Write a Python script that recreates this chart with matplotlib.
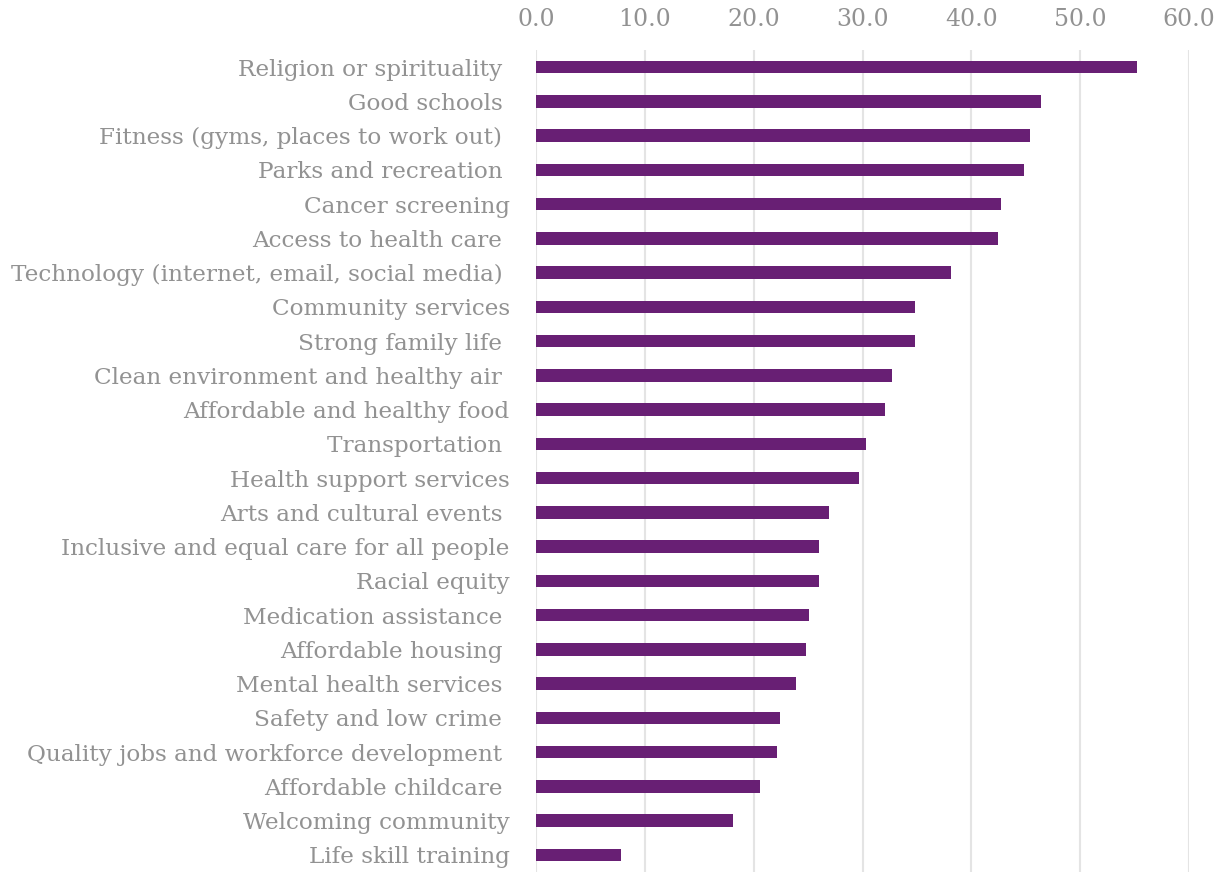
import matplotlib
import matplotlib.pyplot as plt

matplotlib.use("Agg")

# categories, top to bottom
labels = [
    "Religion or spirituality ",
    "Good schools ",
    "Fitness (gyms, places to work out) ",
    "Parks and recreation ",
    "Cancer screening",
    "Access to health care ",
    "Technology (internet, email, social media) ",
    "Community services",
    "Strong family life ",
    "Clean environment and healthy air ",
    "Affordable and healthy food",
    "Transportation ",
    "Health support services",
    "Arts and cultural events ",
    "Inclusive and equal care for all people",
    "Racial equity",
    "Medication assistance ",
    "Affordable housing ",
    "Mental health services ",
    "Safety and low crime ",
    "Quality jobs and workforce development ",
    "Affordable childcare ",
    "Welcoming community",
    "Life skill training",
]
values = [
    55.2, 46.4, 45.4, 44.8, 42.7, 42.4, 38.1, 34.8, 34.8, 32.7, 32.1, 30.3,
    29.7, 26.9, 26.0, 26.0, 25.1, 24.8, 23.9, 22.4, 22.1, 20.6, 18.1, 7.8,
]
xticks = [0, 10, 20, 30, 40, 50, 60]

TEXT = "#929292"
BAR = "#681f74"

plt.rcParams["font.family"] = ["DejaVu Serif"]

fig = plt.figure(figsize=(12.23, 8.75), dpi=100)
ax = fig.add_axes([0.4383, 0.0034, 0.5340, 0.9395])

ypos = list(range(len(labels)))
ax.barh(ypos, values, height=0.36, color=BAR, zorder=3)

ax.set_ylim(len(labels) - 0.5, -0.5)
ax.set_xlim(0, 60)
ax.set_yticks(ypos)
ax.set_yticklabels(labels, fontsize=16.7, color=TEXT)
ax.set_xticks(xticks)
ax.set_xticklabels([f"{t:.1f}" for t in xticks], fontsize=17, color=TEXT)
ax.xaxis.tick_top()
ax.tick_params(axis="x", length=0, pad=14)
ax.tick_params(axis="y", length=0, pad=19)

ax.grid(axis="x", color="#e4e4e4", linewidth=1.5, zorder=0)
for s in ax.spines.values():
    s.set_visible(False)

fig.savefig("out.png", dpi=100)
